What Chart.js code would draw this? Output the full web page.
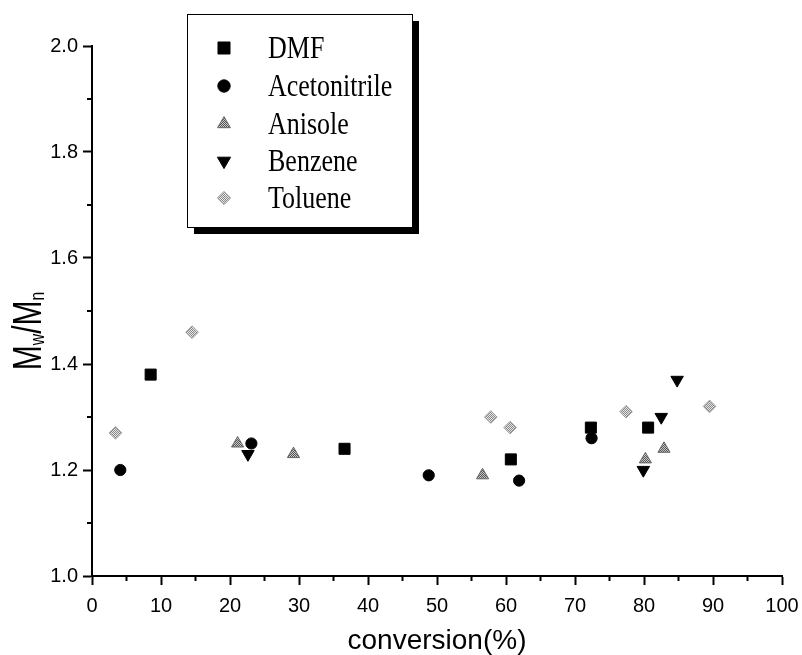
<!DOCTYPE html>
<html>
<head>
<meta charset="utf-8">
<script src="https://cdn.jsdelivr.net/npm/chart.js@4.4.0/dist/chart.umd.min.js"></script>
<style>
  html, body { margin: 0; padding: 0; background: #fff; }
  #wrap { width: 802px; height: 655px; }
</style>
</head>
<body>
<div id="wrap"><canvas id="chart" width="802" height="655"></canvas></div>
<script>
// values: conversion (%) vs Mw/Mn
const seriesNames = ['DMF', 'Acetonitrile', 'Anisole', 'Benzene', 'Toluene'];

const dmfX = [8.5, 36.6, 60.7, 72.3, 80.6];
const dmfY = [1.38, 1.24, 1.22, 1.28, 1.28];

const acetonitrileX = [4.1, 23.1, 48.8, 61.9, 72.4];
const acetonitrileY = [1.20, 1.25, 1.19, 1.18, 1.26];

const anisoleX = [21.1, 29.2, 56.6, 80.2, 82.9];
const anisoleY = [1.25, 1.23, 1.19, 1.22, 1.24];

const benzeneX = [22.6, 79.9, 82.5, 84.8];
const benzeneY = [1.23, 1.20, 1.30, 1.37];

const tolueneX = [3.4, 14.5, 57.8, 60.6, 77.4, 89.5];
const tolueneY = [1.27, 1.46, 1.30, 1.28, 1.31, 1.32];

// minor tick marks (between labelled ticks)
const xMinorTicks = [5, 15, 25, 35, 45, 55, 65, 75, 85, 95];
const yMinorTicks = [1.1, 1.3, 1.5, 1.7, 1.9];

const xTitle = 'conversion(%)';

function toPoints(xs, ys) {
    return xs.map((x, i) => ({ x: x, y: ys[i] }));
}

// halftone-ish fill like the scanned grey markers
function makeChecker(dark, light) {
    const c = document.createElement('canvas');
    c.width = 2; c.height = 2;
    const g = c.getContext('2d');
    g.fillStyle = light; g.fillRect(0, 0, 2, 2);
    g.fillStyle = dark; g.fillRect(0, 0, 1, 1); g.fillRect(1, 1, 1, 1);
    return g.createPattern(c, 'repeat');
}

const anisoleFill = makeChecker('#555', '#c8c8c8');
const tolueneFill = makeChecker('#8a8a8a', '#e6e6e6');

const styles = [
    { pointStyle: 'rect', radius: 7.8, rotation: 0, bg: '#000', border: '#000' },
    { pointStyle: 'circle', radius: 5.6, rotation: 0, bg: '#000', border: '#000' },
    { pointStyle: 'triangle', radius: 7, rotation: 0, bg: anisoleFill, border: '#666' },
    { pointStyle: 'triangle', radius: 7.2, rotation: 180, bg: '#000', border: '#000' },
    { pointStyle: 'rectRot', radius: 6.3, rotation: 0, bg: tolueneFill, border: '#999' }
];

const seriesData = [
    toPoints(dmfX, dmfY),
    toPoints(acetonitrileX, acetonitrileY),
    toPoints(anisoleX, anisoleY),
    toPoints(benzeneX, benzeneY),
    toPoints(tolueneX, tolueneY)
];

const datasets = seriesNames.map((name, i) => ({
    label: name,
    data: seriesData[i],
    pointStyle: styles[i].pointStyle,
    pointRadius: styles[i].radius,
    pointRotation: styles[i].rotation,
    backgroundColor: styles[i].bg,
    borderColor: styles[i].border,
    borderWidth: 1,
    showLine: false
}));

// minor ticks, axis titles and the boxed legend with its drop shadow
const decorPlugin = {
    id: 'decor',
    afterDraw(chart) {
        const ctx = chart.ctx;
        const xs = chart.scales.x;
        const ys = chart.scales.y;
        const area = chart.chartArea;
        ctx.save();

        ctx.strokeStyle = '#000';
        ctx.lineWidth = 2;
        xMinorTicks.forEach(v => {
            const px = xs.getPixelForValue(v);
            ctx.beginPath();
            ctx.moveTo(px, area.bottom);
            ctx.lineTo(px, area.bottom + 5);
            ctx.stroke();
        });
        yMinorTicks.forEach(v => {
            const py = ys.getPixelForValue(v);
            ctx.beginPath();
            ctx.moveTo(area.left, py);
            ctx.lineTo(area.left - 5, py);
            ctx.stroke();
        });

        // x title
        ctx.fillStyle = '#000';
        ctx.font = '28px Arial, "Liberation Sans", sans-serif';
        ctx.textAlign = 'center';
        ctx.textBaseline = 'alphabetic';
        ctx.fillText(xTitle, (area.left + area.right) / 2, 649);

        // y title: M_w/M_n, rotated, a bit narrow like the original
        ctx.save();
        ctx.translate(41, 331);
        ctx.rotate(-Math.PI / 2);
        ctx.scale(0.75, 1);
        const big = '40px Arial, "Liberation Sans", sans-serif';
        const small = '21px Arial, "Liberation Sans", sans-serif';
        const parts = [['M', big, 0], ['w', small, 3], ['/M', big, 0], ['n', small, 3]];
        let total = 0;
        parts.forEach(p => { ctx.font = p[1]; total += ctx.measureText(p[0]).width; });
        let cx = -total / 2;
        ctx.textAlign = 'left';
        parts.forEach(p => {
            ctx.font = p[1];
            ctx.fillText(p[0], cx, p[2]);
            cx += ctx.measureText(p[0]).width;
        });
        ctx.restore();

        // legend box
        const bx = 187, by = 14, bw = 225, bh = 213, sh = 7;
        ctx.fillStyle = '#000';
        ctx.fillRect(bx + sh, by + sh, bw, bh);
        ctx.fillStyle = '#fff';
        ctx.fillRect(bx, by, bw, bh);
        ctx.lineWidth = 1;
        ctx.strokeStyle = '#000';
        ctx.strokeRect(bx + 0.5, by + 0.5, bw, bh);

        const rowY = [48, 86, 124, 161, 198];
        const legendRadius = [8.5, 6.2, 7.4, 7.6, 6.6];
        seriesNames.forEach((name, i) => {
            const st = styles[i];
            ctx.fillStyle = st.bg;
            ctx.strokeStyle = st.border;
            ctx.lineWidth = 1;
            Chart.helpers.drawPoint(ctx, {
                pointStyle: st.pointStyle,
                radius: legendRadius[i],
                rotation: st.rotation,
                borderWidth: 1
            }, 224, rowY[i]);

            ctx.save();
            ctx.translate(268, rowY[i] + 10);
            ctx.scale(1, 1.2);
            ctx.fillStyle = '#000';
            ctx.font = '26px "Liberation Serif", "Times New Roman", serif';
            ctx.textAlign = 'left';
            ctx.textBaseline = 'alphabetic';
            ctx.fillText(name, 0, 0);
            ctx.restore();
        });

        ctx.restore();
    }
};

const tickFont = { family: 'Arial, "Liberation Sans", sans-serif', size: 20 };

new Chart(document.getElementById('chart').getContext('2d'), {
    type: 'scatter',
    data: { datasets: datasets },
    options: {
        responsive: false,
        animation: false,
        layout: { padding: { left: 0, top: 46, right: 20, bottom: 0 } },
        plugins: {
            legend: { display: false },
            tooltip: { enabled: false }
        },
        scales: {
            x: {
                type: 'linear',
                min: 0,
                max: 100,
                ticks: { stepSize: 10, color: '#000', font: tickFont, padding: 9 },
                grid: { drawOnChartArea: false, drawTicks: true, tickLength: 9, tickWidth: 2, tickColor: '#000' },
                border: { display: true, color: '#000', width: 2 },
                afterFit: (scale) => {
                    scale.height = 79;
                    scale.paddingLeft = 0;
                    scale.paddingRight = 0;
                }
            },
            y: {
                type: 'linear',
                min: 1.0,
                max: 2.0,
                ticks: {
                    stepSize: 0.2,
                    color: '#000',
                    font: tickFont,
                    padding: 5,
                    callback: (v) => v.toFixed(1)
                },
                grid: { drawOnChartArea: false, drawTicks: true, tickLength: 9, tickWidth: 2, tickColor: '#000' },
                border: { display: true, color: '#000', width: 2 },
                afterFit: (scale) => {
                    scale.width = 92;
                    scale.paddingTop = 0;
                    scale.paddingBottom = 0;
                }
            }
        }
    },
    plugins: [decorPlugin]
});
</script>
</body>
</html>
